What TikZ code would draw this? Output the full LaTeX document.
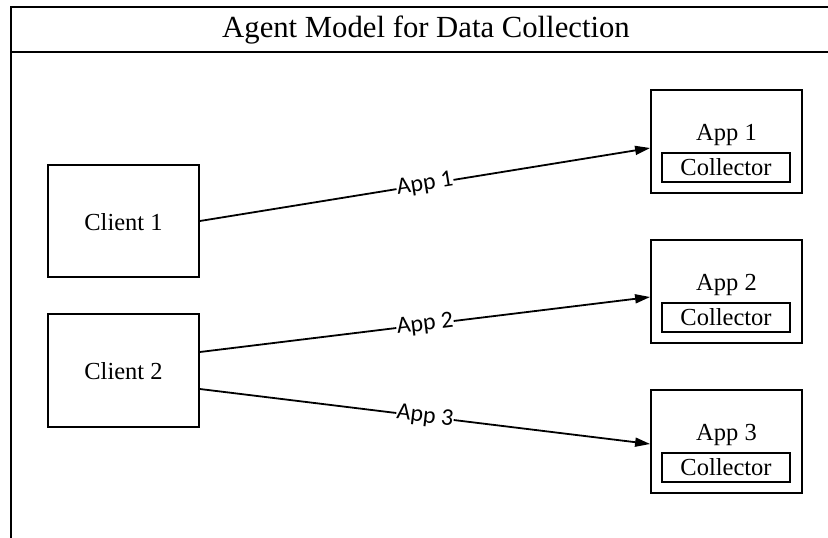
\documentclass[tikz,border=0pt]{standalone}
\usepackage{fontspec}
\setmainfont{Liberation Serif}
\newfontfamily\labelfont{Carlito}
\usetikzlibrary{arrows.meta}

\tikzset{
  box/.style={draw, line width=1.8pt, minimum width=151pt, inner sep=0pt},
  inner/.style={draw, line width=1.6pt, minimum width=128pt, minimum height=29pt, inner sep=0pt, font=\fontsize{24.5}{28}\selectfont},
  boxtext/.style={font=\fontsize{24.5}{28}\selectfont, anchor=base, inner sep=0pt},
  flow/.style={line width=1.8pt, -{Triangle[length=15pt,width=9pt]}},
  flowlabel/.style={font=\labelfont\fontsize{24}{26}\selectfont, fill=white, inner sep=0.5pt, sloped, midway}
}

\begin{document}
\begin{tikzpicture}[x=1pt, y=-1pt]
  \useasboundingbox (0,0) rectangle (828,538);

  % outer frame with title bar
  \draw[line width=2.2pt] (836,7) -- (11,7) -- (11,540);
  \draw[line width=2.2pt] (11,52) -- (836,52);
  \node[font=\fontsize{30.7}{34}\selectfont] (title) at (426,30) {Agent Model for Data Collection};

  % clients
  \node[box, minimum height=112pt] (c1) at (123.5,221) {};
  \node[boxtext] at (123.5,230) {Client 1};
  \node[box, minimum height=113pt] (c2) at (123.5,370.5) {};
  \node[boxtext] at (123.5,379) {Client 2};

  % applications with their collectors
  \foreach \i/\y in {1/141.5, 2/291.5, 3/441.5} {
    \node[box, minimum height=103pt] (app\i) at (726.5,\y) {};
    \node[boxtext] (apptext\i) at (726.5,\y-1.5) {App \i};
    \node[inner] (col\i) at (726,\y+26) {Collector};
  }

  % data flows
  \draw[flow] (c1.east) -- ([yshift=-6.5pt]app1.west) node[flowlabel] {App 1};
  \draw[flow] ([yshift=18.5pt]c2.east) -- ([yshift=-5.5pt]app2.west) node[flowlabel] {App 2};
  \draw[flow] ([yshift=-18.5pt]c2.east) -- ([yshift=-2.5pt]app3.west) node[flowlabel] {App 3};
\end{tikzpicture}
\end{document}
